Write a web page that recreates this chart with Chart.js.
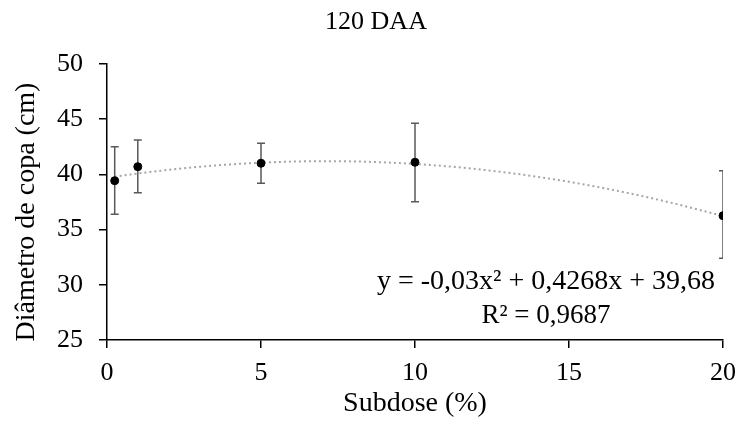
<!DOCTYPE html>
<html>
<head>
<meta charset="utf-8">
<script src="https://cdn.jsdelivr.net/npm/chart.js@4.4.1/dist/chart.umd.min.js"></script>
<style>
  html, body { margin: 0; padding: 0; background: #fff; }
  #wrap { width: 737px; height: 427px; }
</style>
</head>
<body>
<div id="wrap"><canvas id="chart" width="737" height="427"></canvas></div>
<script>
// valores
const subdose = [0.25, 1, 5, 10, 20];
const diametro = [39.43, 40.70, 41.01, 41.10, 36.26];
const erroSup = [42.51, 43.12, 42.82, 44.63, 40.34];
const erroInf = [36.39, 38.34, 39.19, 37.53, 32.40];
// coeficientes da equação impressa no gráfico: y = a x² + b x + c
const coef = [-0.03, 0.4268, 39.68];
const xTicks = [0, 5, 10, 15, 20];
const yTicks = [25, 30, 35, 40, 45, 50];
const equacao = ['y = -0,03x² + 0,4268x + 39,68', 'R² = 0,9687'];

const serif = '"Liberation Serif", "Times New Roman", serif';

// linha de tendência (polinomial de 2ª ordem)
let tendencia = [];
for (let i = 0; i <= 79; i++) {
    const x = 0.25 + i * 0.25;
    tendencia.push({ x: x, y: coef[0] * x * x + coef[1] * x + coef[2] });
}

const pontos = subdose.map((x, i) => ({ x: x, y: diametro[i] }));

// barras de erro
const errorBars = {
    id: 'errorBars',
    beforeDatasetsDraw(chart) {
        const ctx = chart.ctx;
        const xs = chart.scales.x, ys = chart.scales.y;
        const area = chart.chartArea;
        ctx.save();
        ctx.beginPath();
        ctx.rect(area.left, area.top - 2, area.right - area.left, area.bottom - area.top + 4);
        ctx.clip();
        ctx.strokeStyle = '#595959';
        ctx.lineWidth = 1.5;
        subdose.forEach((x, i) => {
            const px = xs.getPixelForValue(x);
            const top = ys.getPixelForValue(erroSup[i]);
            const bot = ys.getPixelForValue(erroInf[i]);
            ctx.beginPath();
            ctx.moveTo(px, top); ctx.lineTo(px, bot);
            ctx.moveTo(px - 4, top); ctx.lineTo(px + 4, top);
            ctx.moveTo(px - 4, bot); ctx.lineTo(px + 4, bot);
            ctx.stroke();
        });
        ctx.restore();
    }
};

// título, título do eixo y e equação
const textos = {
    id: 'textos',
    afterDraw(chart) {
        const ctx = chart.ctx;
        ctx.save();
        ctx.fillStyle = '#000';
        ctx.textAlign = 'center';
        ctx.textBaseline = 'middle';
        ctx.font = '26px ' + serif;
        ctx.fillText('120 DAA', 376, 22);
        ctx.font = '28px ' + serif;
        ctx.fillText(equacao[0], 546, 282);
        ctx.font = '27px ' + serif;
        ctx.fillText(equacao[1], 546, 316);
        ctx.translate(27, 212);
        ctx.rotate(-Math.PI / 2);
        ctx.font = '28px ' + serif;
        ctx.fillText('Diâmetro de copa (cm)', 0, 0);
        ctx.restore();
    }
};

Chart.defaults.font.family = serif;
Chart.defaults.color = '#000';

new Chart(document.getElementById('chart'), {
    type: 'scatter',
    data: {
        datasets: [{
            data: pontos,
            backgroundColor: '#000',
            borderColor: '#000',
            pointRadius: 4,
            pointHoverRadius: 4,
            order: 0
        }, {
            data: tendencia,
            showLine: true,
            borderColor: '#a6a6a6',
            borderWidth: 2,
            borderDash: [2, 3],
            pointRadius: 0,
            fill: false,
            order: 1
        }]
    },
    options: {
        responsive: false,
        animation: false,
        layout: { padding: { top: 64, right: 14, left: 0, bottom: 0 } },
        plugins: {
            legend: { display: false },
            tooltip: { enabled: false },
            title: { display: false }
        },
        scales: {
            x: {
                type: 'linear',
                min: 0,
                max: 20,
                afterBuildTicks: s => { s.ticks = xTicks.map(v => ({ value: v })); },
                afterFit: s => { s.height = 87; s.paddingRight = 0; s.paddingLeft = 0; },
                ticks: { font: { size: 26 }, padding: 10, color: '#000', maxRotation: 0 },
                grid: { display: true, drawOnChartArea: false, drawTicks: true, tickLength: 8, color: '#000', lineWidth: 1.5 },
                border: { display: true, color: '#000', width: 1.5 },
                title: { display: true, text: 'Subdose (%)', font: { size: 28 }, color: '#000', padding: { top: 0, bottom: 7 } }
            },
            y: {
                min: 25,
                max: 50,
                afterBuildTicks: s => { s.ticks = yTicks.map(v => ({ value: v })); },
                afterFit: s => { s.width = 107; },
                ticks: { font: { size: 26 }, padding: 16, color: '#000' },
                grid: { display: true, drawOnChartArea: false, drawTicks: true, tickLength: 8, color: '#000', lineWidth: 1.5 },
                border: { display: true, color: '#000', width: 1.5 }
            }
        }
    },
    plugins: [errorBars, textos]
});
</script>
</body>
</html>
